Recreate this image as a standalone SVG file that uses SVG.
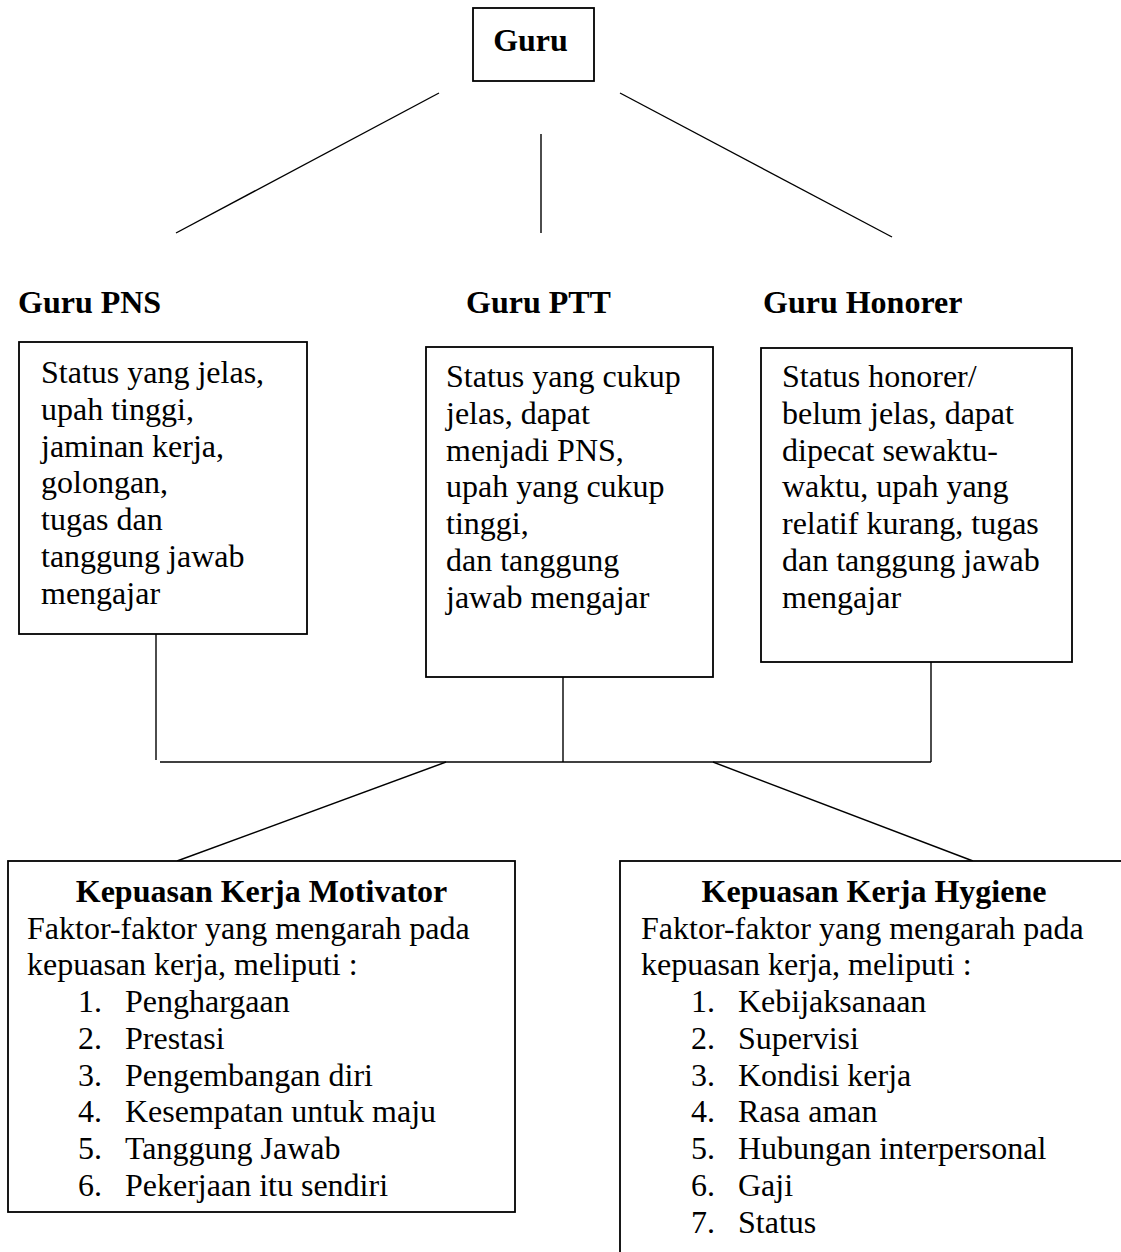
<svg xmlns="http://www.w3.org/2000/svg" width="1121" height="1252" viewBox="0 0 1121 1252">
<style>
text{font-family:"Liberation Serif","Times New Roman",serif;font-size:32px;fill:#000}
.b{font-weight:bold}
.box{fill:#fff;stroke:#000;stroke-width:1.8}
.ln{stroke:#000;stroke-width:1.4;fill:none}
</style>
<rect width="1121" height="1252" fill="#fff"/>
<g id="connectors">
<line class="ln" x1="439" y1="93" x2="176" y2="233"/>
<line class="ln" x1="541" y1="134" x2="541" y2="233"/>
<line class="ln" x1="620" y1="93" x2="892" y2="237"/>
<line class="ln" x1="156" y1="634" x2="156" y2="760"/>
<line class="ln" x1="563" y1="677" x2="563" y2="762"/>
<line class="ln" x1="931" y1="658" x2="931" y2="762"/>
<line class="ln" x1="160" y1="762" x2="931" y2="762"/>
<line class="ln" x1="446" y1="762" x2="177" y2="861"/>
<line class="ln" x1="713" y1="762" x2="973" y2="861"/>
</g>
<g id="guru">
<rect class="box" x="473" y="8" width="121" height="73"/>
<text class="b" x="530.5" y="51" text-anchor="middle">Guru</text>
</g>
<g id="label-pns"><text class="b" x="18" y="313">Guru PNS</text></g>
<g id="label-ptt"><text class="b" x="466" y="313">Guru PTT</text></g>
<g id="label-honorer"><text class="b" x="763" y="313">Guru Honorer</text></g>
<g id="pns">
<rect class="box" x="19" y="342" width="288" height="292"/>
<text x="41" y="383">Status yang jelas,</text>
<text x="41" y="419.8">upah tinggi,</text>
<text x="41" y="456.6">jaminan kerja,</text>
<text x="41" y="493.4">golongan,</text>
<text x="41" y="530.2">tugas dan</text>
<text x="41" y="567">tanggung jawab</text>
<text x="41" y="603.8">mengajar</text>
</g>
<g id="ptt">
<rect class="box" x="426" y="347" width="287" height="330"/>
<text x="446" y="387">Status yang cukup</text>
<text x="446" y="423.8">jelas, dapat</text>
<text x="446" y="460.6">menjadi PNS,</text>
<text x="446" y="497.4">upah yang cukup</text>
<text x="446" y="534.2">tinggi,</text>
<text x="446" y="571">dan tanggung</text>
<text x="446" y="607.8">jawab mengajar</text>
</g>
<g id="honorer">
<rect class="box" x="761" y="348" width="311" height="314"/>
<text x="782" y="387">Status honorer/</text>
<text x="782" y="423.8">belum jelas, dapat</text>
<text x="782" y="460.6">dipecat sewaktu-</text>
<text x="782" y="497.4">waktu, upah yang</text>
<text x="782" y="534.2">relatif kurang, tugas</text>
<text x="782" y="571">dan tanggung jawab</text>
<text x="782" y="607.8">mengajar</text>
</g>
<g id="motivator">
<rect class="box" x="8" y="861" width="507" height="351"/>
<text class="b" x="261.5" y="902" text-anchor="middle">Kepuasan Kerja Motivator</text>
<text x="27" y="938.5">Faktor-faktor yang mengarah pada</text>
<text x="27" y="975">kepuasan kerja, meliputi :</text>
<text x="78" y="1012">1.</text><text x="125" y="1012">Penghargaan</text>
<text x="78" y="1048.8">2.</text><text x="125" y="1048.8">Prestasi</text>
<text x="78" y="1085.6">3.</text><text x="125" y="1085.6">Pengembangan diri</text>
<text x="78" y="1122.4">4.</text><text x="125" y="1122.4">Kesempatan untuk maju</text>
<text x="78" y="1159.2">5.</text><text x="125" y="1159.2">Tanggung Jawab</text>
<text x="78" y="1196">6.</text><text x="125" y="1196">Pekerjaan itu sendiri</text>
</g>
<g id="hygiene">
<rect class="box" x="620" y="861" width="540" height="460"/>
<text class="b" x="874" y="902" text-anchor="middle">Kepuasan Kerja Hygiene</text>
<text x="641" y="938.5">Faktor-faktor yang mengarah pada</text>
<text x="641" y="975">kepuasan kerja, meliputi :</text>
<text x="691" y="1012">1.</text><text x="738" y="1012">Kebijaksanaan</text>
<text x="691" y="1048.8">2.</text><text x="738" y="1048.8">Supervisi</text>
<text x="691" y="1085.6">3.</text><text x="738" y="1085.6">Kondisi kerja</text>
<text x="691" y="1122.4">4.</text><text x="738" y="1122.4">Rasa aman</text>
<text x="691" y="1159.2">5.</text><text x="738" y="1159.2">Hubungan interpersonal</text>
<text x="691" y="1196">6.</text><text x="738" y="1196">Gaji</text>
<text x="691" y="1232.8">7.</text><text x="738" y="1232.8">Status</text>
</g>
</svg>
